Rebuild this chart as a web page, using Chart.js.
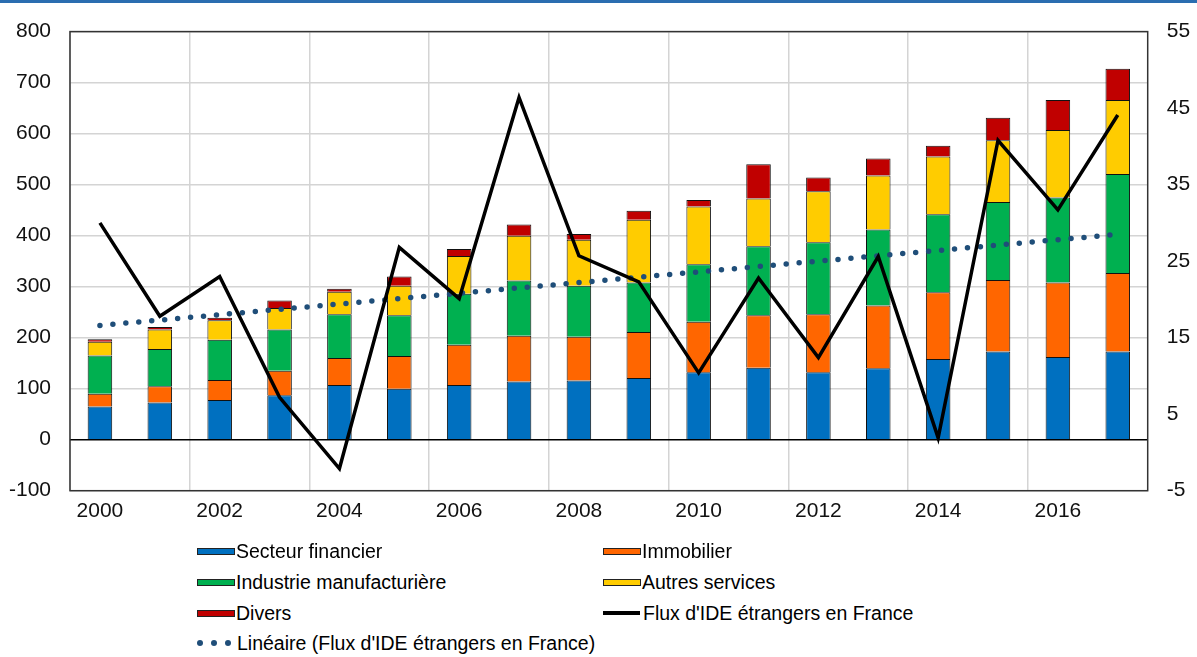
<!DOCTYPE html>
<html lang="fr">
<head>
<meta charset="utf-8">
<title>Flux d'IDE étrangers en France</title>
<script src="https://cdn.jsdelivr.net/npm/chart.js@4/dist/chart.umd.min.js"></script>
<style>
  body { margin: 0; background: #fff; font-family: "Liberation Sans", Arial, sans-serif; }
  #wrap { position: relative; width: 1197px; height: 657px; overflow: hidden; }
  #topbar { position: absolute; left: 0; top: 0; width: 1197px; height: 3px; background: #2a6db0; }
  #chartBox { position: absolute; left: 0; top: 0; width: 1197px; height: 540px; }
  .leg { position: absolute; display: flex; align-items: center; font-size: 19.5px; color: #000; white-space: nowrap; }
  .leg .sw { width: 36px; height: 5px; border: 1.5px solid #222; margin-right: 1px; }
  .leg .ln { width: 37px; height: 4px; background: #000; margin-right: 3px; }
  .leg .dots { width: 34px; margin-right: 6px; display: flex; justify-content: space-between; }
  .leg .dots i { width: 6px; height: 6px; border-radius: 50%; background: #1f4e79; display: block; }
</style>
</head>
<body>
<div id="wrap">
  <div id="chartBox"><canvas id="chart" width="1197" height="540"></canvas></div>
  <div id="topbar"></div>
  <div id="legend"></div>
</div>
<script>
/* ---------- Data ---------- */
const years = ['2000','2001','2002','2003','2004','2005','2006','2007','2008',
               '2009','2010','2011','2012','2013','2014','2015','2016','2017'];

// stock par secteur (échelle de gauche)
const financier   = [65, 73, 78, 87, 107, 100, 107, 114, 116, 121, 132, 141, 132, 140, 158, 173, 162, 173];
const immobilier  = [25, 32, 39, 48, 53, 64, 79, 90, 86, 90, 99, 103, 114, 123, 131, 140, 146, 154];
const industrie   = [75, 73, 79, 81, 86, 80, 100, 108, 100, 97, 113, 135, 141, 149, 153, 153, 167, 194];
const autres      = [27, 38, 38, 42, 44, 58, 74, 88, 90, 123, 113, 94, 100, 106, 113, 121, 132, 145];
const divers      = [5, 5, 5, 15, 6, 18, 14, 22, 11, 18, 13, 67, 27, 33, 21, 44, 59, 61];

// flux (échelle de droite)
const flux        = [30, 17.8, 23, 7.2, -2.1, 26.8, 20.1, 46.4, 25.7, 22.3, 10.4, 22.8, 12.4, 25.6, 1.9, 40.8, 31.7, 44.1];
const fluxLineaire = [16.6, 17.3, 18.0, 18.7, 19.4, 20.1, 20.8, 21.5, 22.2, 22.9, 23.6, 24.3, 25.0, 25.7, 26.4, 27.1, 27.8, 28.5];

// axes
const leftMin = -100, leftMax = 800, leftStep = 100;
const rightMin = -5, rightMax = 55, rightStep = 10;

/* ---------- Styles ---------- */
const COLORS = {
  financier: '#0070c0',
  immobilier: '#ff6600',
  industrie: '#00b050',
  autres: '#ffcc00',
  divers: '#c00000',
  flux: '#000000',
  lineaire: '#1f4e79'
};
const FONT = '"Liberation Sans", Arial, sans-serif';

const barSet = (label, data, color) => ({
  type: 'bar', label, data, backgroundColor: color,
  borderColor: '#111', borderWidth: 1,
  yAxisID: 'y', stack: 'ide', order: 2,
  barPercentage: 0.41, categoryPercentage: 1
});

/* cadre autour de la zone de tracé */
const frame = {
  id: 'frame',
  afterDatasetsDraw(chart) {
    const { ctx, chartArea: a } = chart;
    ctx.save();
    ctx.strokeStyle = '#333';
    ctx.lineWidth = 1.5;
    ctx.strokeRect(a.left, a.top, a.right - a.left, a.bottom - a.top);
    ctx.restore();
  }
};

new Chart(document.getElementById('chart'), {
  data: {
    labels: years,
    datasets: [
      barSet('Secteur financier', financier, COLORS.financier),
      barSet('Immobilier', immobilier, COLORS.immobilier),
      barSet('Industrie manufacturière', industrie, COLORS.industrie),
      barSet('Autres services', autres, COLORS.autres),
      barSet('Divers', divers, COLORS.divers),
      {
        type: 'line', label: "Flux d'IDE étrangers en France", data: flux,
        borderColor: COLORS.flux, borderWidth: 3.5, pointRadius: 0,
        tension: 0, yAxisID: 'y1', order: 0
      },
      {
        type: 'line', label: "Linéaire (Flux d'IDE étrangers en France)", data: fluxLineaire,
        borderColor: COLORS.lineaire, borderWidth: 5.5, borderDash: [0, 13],
        borderCapStyle: 'round', pointRadius: 0, tension: 0, yAxisID: 'y1', order: 1
      }
    ]
  },
  options: {
    responsive: false,
    animation: false,
    layout: { padding: { top: 21, left: 0, right: 0, bottom: 0 } },
    plugins: { legend: { display: false }, tooltip: { enabled: false } },
    scales: {
      x: {
        offset: true,
        grid: {
          offset: true, drawTicks: false,
          color: (c) => (c.index % 2 === 0 ? '#d4d4d4' : 'rgba(0,0,0,0)'),
          lineWidth: 1.5
        },
        border: { display: false },
        ticks: {
          autoSkip: false, maxRotation: 0, padding: 8, color: '#111',
          font: { family: FONT, size: 21 },
          callback: (v, i) => (i % 2 === 0 ? years[i] : '')
        },
        afterFit: (s) => { s.height = 49.3; }
      },
      y: {
        position: 'left', min: leftMin, max: leftMax,
        grid: {
          drawTicks: false, lineWidth: 1.5,
          color: (c) => (c.tick && c.tick.value === 0 ? '#000' : '#d4d4d4')
        },
        border: { display: false },
        ticks: { stepSize: leftStep, padding: 19, color: '#111', font: { family: FONT, size: 21 } },
        afterFit: (s) => { s.width = 70; }
      },
      y1: {
        position: 'right', min: rightMin, max: rightMax,
        grid: { display: false, drawTicks: false },
        border: { display: false },
        ticks: { stepSize: rightStep, padding: 19, color: '#111', font: { family: FONT, size: 21 } },
        afterFit: (s) => { s.width = 49.3; }
      }
    }
  },
  plugins: [frame]
});

/* ---------- Légende (2 colonnes) ---------- */
const legendItems = [
  { text: 'Secteur financier', kind: 'sw', color: COLORS.financier, x: 197, y: 551 },
  { text: 'Immobilier', kind: 'sw', color: COLORS.immobilier, x: 603, y: 551 },
  { text: 'Industrie manufacturière', kind: 'sw', color: COLORS.industrie, x: 197, y: 582 },
  { text: 'Autres services', kind: 'sw', color: COLORS.autres, x: 603, y: 582 },
  { text: 'Divers', kind: 'sw', color: COLORS.divers, x: 197, y: 613 },
  { text: "Flux d'IDE étrangers en France", kind: 'ln', x: 603, y: 613 },
  { text: "Linéaire (Flux d'IDE étrangers en France)", kind: 'dots', x: 197, y: 643 }
];
const legendEl = document.getElementById('legend');
legendItems.forEach(it => {
  const d = document.createElement('div');
  d.className = 'leg';
  d.style.left = it.x + 'px';
  d.style.top = (it.y - 12) + 'px';
  d.style.height = '24px';
  const m = document.createElement('span');
  m.className = it.kind;
  if (it.kind === 'sw') m.style.background = it.color;
  if (it.kind === 'dots') m.innerHTML = '<i></i><i></i><i></i>';
  const t = document.createElement('span');
  t.textContent = it.text;
  d.append(m, t);
  legendEl.appendChild(d);
});
</script>
</body>
</html>
